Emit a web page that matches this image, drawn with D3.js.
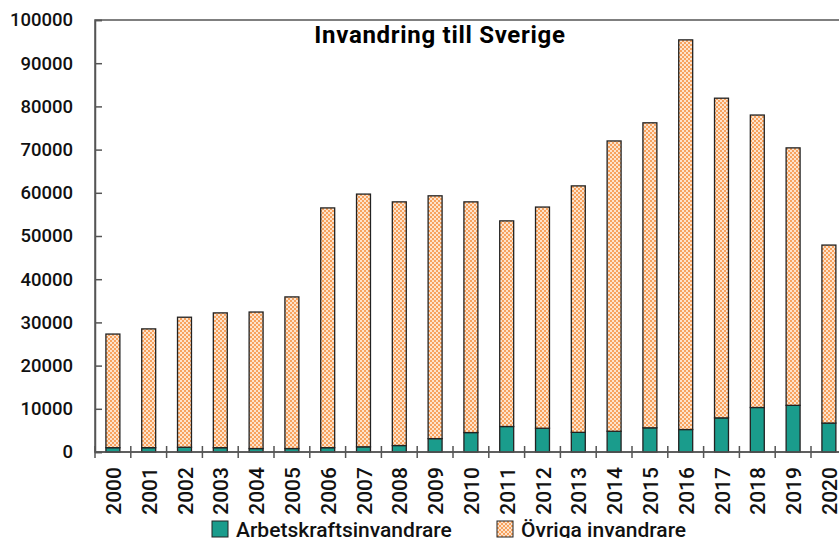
<!DOCTYPE html>
<html>
<head>
<meta charset="utf-8">
<script src="https://cdn.jsdelivr.net/npm/d3@7"></script>
<style>
  body { margin: 0; background: #fff; }
  svg { display: block; }
</style>
</head>
<body>
<div id="chart"></div>
<script>
const width = 839;
const height = 538;

const years = ["2000", "2001", "2002", "2003", "2004", "2005", "2006", "2007", "2008", "2009", "2010",
    "2011", "2012", "2013", "2014", "2015", "2016", "2017", "2018", "2019", "2020"];
const arbetskraft = [1000, 1000, 1100, 1000, 800, 800, 1000, 1200, 1500, 3100, 4500,
    5900, 5500, 4550, 4800, 5600, 5200, 7900, 10300, 10800, 6700];
const ovriga = [26300, 27500, 30100, 31200, 31600, 35100, 55500, 58500, 56400, 56200, 53400,
    47600, 51200, 57050, 67200, 70600, 90200, 74000, 67700, 59600, 41200];
const yTicks = [0, 10000, 20000, 30000, 40000, 50000, 60000, 70000, 80000, 90000, 100000];

const font = "Roboto, 'DejaVu Sans', sans-serif";
const margin = { top: 20, left: 95, bottom: 86 };
const plotBottom = height - margin.bottom;
const band = 35.8;

const svg = d3.select("#chart")
    .append("svg")
    .attr("width", width)
    .attr("height", height);

// checker pattern for the "Övriga" bars
const defs = svg.append("defs");
const pat = defs.append("pattern")
    .attr("id", "checker")
    .attr("patternUnits", "userSpaceOnUse")
    .attr("width", 4)
    .attr("height", 4);
pat.append("rect").attr("width", 4).attr("height", 4).attr("fill", "#f7a25e");
pat.append("rect").attr("x", 0).attr("y", 0).attr("width", 2).attr("height", 2).attr("fill", "#fde3cc");
pat.append("rect").attr("x", 2).attr("y", 2).attr("width", 2).attr("height", 2).attr("fill", "#fde3cc");

const x = d3.scaleBand()
    .domain(years)
    .range([margin.left, margin.left + band * years.length])
    .paddingInner(0.61)
    .paddingOuter(0.305);

const y = d3.scaleLinear()
    .domain([0, 100000])
    .range([plotBottom, margin.top]);

const rows = years.map((yr, i) => ({ year: yr, arbets: arbetskraft[i], ovriga: ovriga[i] }));
const stacked = d3.stack().keys(["arbets", "ovriga"])(rows);
const fills = { arbets: "#1a9c8c", ovriga: "url(#checker)" };

// plot frame
svg.append("rect")
    .attr("x", margin.left)
    .attr("y", margin.top)
    .attr("width", band * years.length)
    .attr("height", plotBottom - margin.top)
    .attr("fill", "none")
    .attr("stroke", "#555")
    .attr("stroke-width", 1.5);

// bars
svg.selectAll(".series")
    .data(stacked)
    .enter().append("g")
    .attr("class", "series")
    .attr("fill", d => fills[d.key])
    .selectAll("rect")
    .data(d => d)
    .enter().append("rect")
    .attr("x", d => x(d.data.year))
    .attr("y", d => y(d[1]))
    .attr("width", x.bandwidth())
    .attr("height", d => y(d[0]) - y(d[1]))
    .attr("stroke", "#222")
    .attr("stroke-width", 1.3);

// y axis
const yAxis = svg.append("g")
    .attr("transform", `translate(${margin.left},0)`)
    .call(d3.axisLeft(y).tickValues(yTicks).tickSize(-7).tickPadding(22).tickFormat(d3.format("d")));
yAxis.select(".domain").attr("stroke", "#555").attr("stroke-width", 1.5);
yAxis.selectAll(".tick line").attr("stroke", "#555").attr("stroke-width", 1.5);
yAxis.selectAll(".tick text")
    .attr("font-family", font)
    .attr("font-size", "18.5px")
    .attr("font-weight", 500)
    .attr("fill", "#111");

// x axis: ticks between categories
const xg = svg.append("g");
xg.append("line")
    .attr("x1", margin.left).attr("x2", margin.left + band * years.length)
    .attr("y1", plotBottom).attr("y2", plotBottom)
    .attr("stroke", "#555").attr("stroke-width", 1.5);
xg.selectAll(".xtick")
    .data(d3.range(years.length + 1))
    .enter().append("line")
    .attr("x1", i => margin.left + i * band)
    .attr("x2", i => margin.left + i * band)
    .attr("y1", plotBottom - 6)
    .attr("y2", plotBottom + 6)
    .attr("stroke", "#555")
    .attr("stroke-width", 1.5);
xg.selectAll(".xlabel")
    .data(years)
    .enter().append("text")
    .attr("transform", d => `translate(${x(d) + x.bandwidth() / 2 + 8},${plotBottom + 15}) rotate(-90)`)
    .attr("text-anchor", "end")
    .attr("font-family", font)
    .attr("font-size", "21px")
    .attr("font-weight", 500)
    .attr("fill", "#111")
    .text(d => d);

// title
svg.append("text")
    .attr("x", 440)
    .attr("y", 43)
    .attr("text-anchor", "middle")
    .attr("font-family", font)
    .attr("font-size", "24px")
    .attr("font-weight", 700)
    .attr("letter-spacing", "0.7px")
    .attr("fill", "#000")
    .text("Invandring till Sverige");

// legend
const legend = [
    { label: "Arbetskraftsinvandrare", fill: fills.arbets, x: 212 },
    { label: "Övriga invandrare", fill: fills.ovriga, x: 497 }
];
const lg = svg.selectAll(".legend")
    .data(legend)
    .enter().append("g")
    .attr("transform", d => `translate(${d.x},521)`);
lg.append("rect")
    .attr("width", 16).attr("height", 16)
    .attr("fill", d => d.fill)
    .attr("stroke", "#222")
    .attr("stroke-width", 1);
lg.append("text")
    .attr("x", 24)
    .attr("y", 16)
    .attr("font-family", font)
    .attr("font-size", "21px")
    .attr("font-weight", 500)
    .attr("fill", "#111")
    .text(d => d.label);
</script>
</body>
</html>
